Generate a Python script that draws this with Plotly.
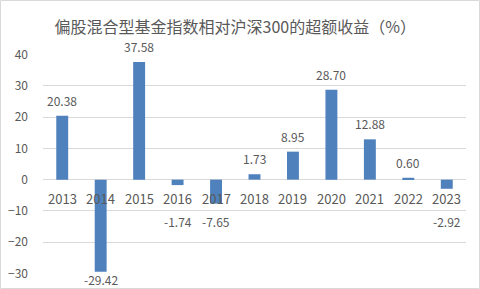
import plotly.graph_objects as go

years = ["2013", "2014", "2015", "2016", "2017", "2018", "2019", "2020", "2021", "2022", "2023"]
excess = [20.38, -29.42, 37.58, -1.74, -7.65, 1.73, 8.95, 28.70, 12.88, 0.60, -2.92]
y_ticks = [-30, -20, -10, 0, 10, 20, 30, 40]
title_text = "偏股混合型基金指数相对沪深300的超额收益（%）"

W, H = 480, 289
L, R, T, B = 43, 14, 54, 15
pw, ph = W - L - R, H - T - B
FONT = "Noto Sans CJK SC, Microsoft YaHei, sans-serif"
GREY = "#595959"

fig = go.Figure()
fig.add_trace(go.Bar(x=list(range(len(years))), y=excess, marker_color="#4F81BD",
                     marker_line_width=0, width=0.31))

annotations = []
for i, (yr, v) in enumerate(zip(years, excess)):
    annotations.append(dict(x=i, y=0, xref="x", yref="y", text=yr, showarrow=False,
                            yanchor="top", yshift=-7,
                            font=dict(family=FONT, size=13, color=GREY)))
    if v >= 0:
        annotations.append(dict(x=i, y=v, xref="x", yref="y", text=f"{v:.2f}", showarrow=False,
                                yanchor="bottom", yshift=5,
                                font=dict(family=FONT, size=12, color=GREY)))
    else:
        annotations.append(dict(x=i, y=min(v, -11), xref="x", yref="y", text=f"{v:.2f}",
                                showarrow=False, yanchor="top", yshift=3,
                                font=dict(family=FONT, size=12, color=GREY)))

fig.update_layout(
    width=W, height=H,
    margin=dict(l=L, r=R, t=T, b=B, autoexpand=False),
    paper_bgcolor="white", plot_bgcolor="white",
    showlegend=False,
    title=dict(text=title_text, x=0.49, xanchor="center", y=1 - 27 / H, yanchor="middle",
               font=dict(family=FONT, size=16, color=GREY)),
    xaxis=dict(type="linear", showticklabels=False, showgrid=False, zeroline=False,
               showline=False, range=[-0.5, len(years) - 0.5], automargin=False),
    yaxis=dict(range=[-30.15, 40.15], tickvals=y_ticks, showgrid=True, gridcolor="#d9d9d9",
               gridwidth=1, zeroline=True, zerolinecolor="#d9d9d9", zerolinewidth=1,
               showline=False, ticks="", ticklabelstandoff=14, automargin=False,
               tickfont=dict(family=FONT, size=12, color=GREY)),
    annotations=annotations,
    shapes=[dict(type="rect", xref="paper", yref="paper",
                 x0=(0.5 - L) / pw, x1=(W - 0.5 - L) / pw,
                 y0=-(B - 0.5) / ph, y1=1 + (T - 0.5) / ph,
                 line=dict(color="#d9d9d9", width=1), fillcolor="rgba(0,0,0,0)", layer="below")],
)

fig.write_html("out.html")
